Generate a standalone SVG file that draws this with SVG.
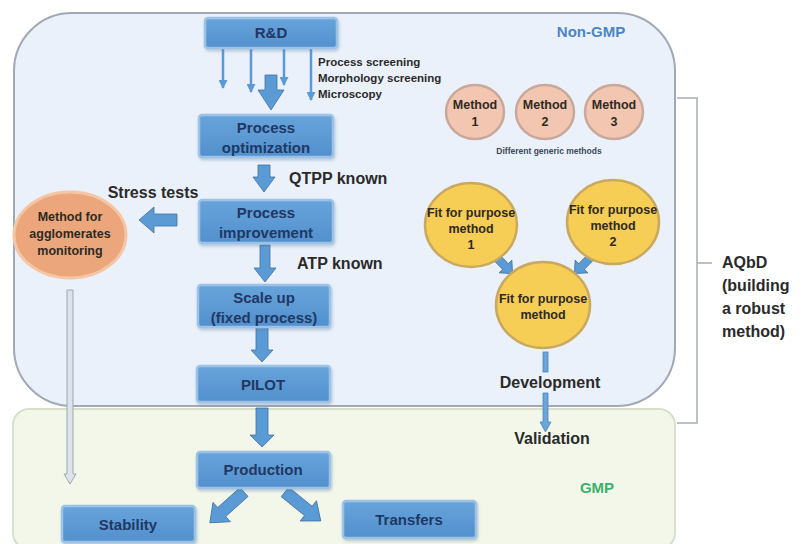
<svg xmlns="http://www.w3.org/2000/svg" width="812" height="544" viewBox="0 0 812 544">
  <defs>
    <linearGradient id="boxFill" x1="0" y1="0" x2="0" y2="1">
      <stop offset="0" stop-color="#68a4db"/>
      <stop offset="1" stop-color="#5290cd"/>
    </linearGradient>
    <filter id="shadow" x="-10%" y="-10%" width="125%" height="140%">
      <feDropShadow dx="1" dy="2" stdDeviation="1.5" flood-color="#4d6f94" flood-opacity="0.35"/>
    </filter>
    <marker id="thinHead" markerWidth="9" markerHeight="9" refX="8" refY="4.5" orient="auto" markerUnits="userSpaceOnUse">
      <path d="M0,0 L9,4.5 L0,9 Z" fill="#5b9bd5"/>
    </marker>
  </defs>
  <style>
    .box { fill: url(#boxFill); stroke: #9cc3e6; stroke-width: 2.5; filter: url(#shadow); }
    .boxText { font-family: "Liberation Sans", Arial, sans-serif; font-weight: bold; font-size: 15px; fill: #1f3864; text-anchor: middle; }
    .label { font-family: "Liberation Sans", Arial, sans-serif; font-weight: bold; font-size: 16px; fill: #2a2a2a; }
    .small { font-family: "Liberation Sans", Arial, sans-serif; font-weight: bold; font-size: 11.5px; fill: #2a2a2a; }
    .blockArrow { fill: #5b9bd5; stroke: #41719c; stroke-width: 0.8; }
    .thin { stroke: #5b9bd5; stroke-width: 2.5; fill: none; }
    .methodCircle { fill: #f2c6b0; stroke: #c8a89a; stroke-width: 2.5; }
    .fitCircle { fill: #f6cd55; stroke: #c9a860; stroke-width: 2.5; }
    .circleText { font-family: "Liberation Sans", Arial, sans-serif; font-weight: bold; font-size: 12.5px; fill: #2e2a22; text-anchor: middle; }
    .devArrow { fill: #6aa5dc; stroke: #4f86bb; stroke-width: 0.8; }
  </style>

  <rect width="812" height="544" fill="#ffffff"/>

  <!-- zones -->
  <g id="zone-gmp">
    <rect x="13" y="409" width="662" height="140" rx="16" fill="#f3f7ea" stroke="#d8e0cc" stroke-width="2"/>
    <text x="597" y="493" font-family="Liberation Sans, Arial, sans-serif" font-weight="bold" font-size="15" fill="#3fb06d" text-anchor="middle">GMP</text>
  </g>
  <g id="zone-nongmp">
    <rect x="14" y="13" width="661" height="393" rx="58" fill="#eaf1fa" stroke="#a2a9b4" stroke-width="2"/>
    <text x="591" y="37" font-family="Liberation Sans, Arial, sans-serif" font-weight="bold" font-size="15" fill="#4a86c5" text-anchor="middle">Non-GMP</text>
  </g>

  <!-- AQbD bracket -->
  <g id="aqbd">
    <path d="M677,98 H697 V423 H677 M697,263 H712" fill="none" stroke="#a8adb4" stroke-width="1.5"/>
    <text class="label" x="722" y="268" font-size="16.5">AQbD</text>
    <text class="label" x="722" y="291" font-size="16.5">(building</text>
    <text class="label" x="722" y="314" font-size="16.5">a robust</text>
    <text class="label" x="722" y="337" font-size="16.5">method)</text>
  </g>

  <!-- connectors -->
  <g id="connectors">
    <!-- R&D screening arrows -->
    <line class="thin" x1="223" y1="49" x2="223" y2="88" marker-end="url(#thinHead)"/>
    <line class="thin" x1="251" y1="49" x2="251" y2="92" marker-end="url(#thinHead)"/>
    <line class="thin" x1="284" y1="49" x2="284" y2="85" marker-end="url(#thinHead)"/>
    <line class="thin" x1="311" y1="49" x2="311" y2="100" marker-end="url(#thinHead)"/>
    <!-- main flow block arrows -->
    <path class="blockArrow" d="M265,75 H277 V90 H284 L271,110 L258,90 H265 Z"/>
    <path class="blockArrow" d="M258,165 H270 V177 H275 L264,192 L253,177 H258 Z"/>
    <path class="blockArrow" d="M260,245 H270 V268 H276 L265,282 L254,268 H260 Z"/>
    <path class="blockArrow" d="M256,327 H268 V350 H273 L262,362 L251,350 H256 Z"/>
    <path class="blockArrow" d="M256,408 H268 V435 H274 L262,447 L250,435 H256 Z"/>
    <!-- stress tests -->
    <path class="blockArrow" d="M177,214 V226 H154 V233 L139,220 L154,207 V214 Z"/>
    <!-- production outputs -->
    <path class="blockArrow" transform="translate(244,492) rotate(48)" d="M-6,0 H6 V30 H13 L0,46 L-13,30 H-6 Z"/>
    <path class="blockArrow" transform="translate(285,492) rotate(-51)" d="M-6,0 H6 V30 H13 L0,46 L-13,30 H-6 Z"/>
    <!-- agglomerates monitoring line -->
    <path d="M67,290 H73 V474 H76 L70,484 L64,474 H67 Z" fill="#dde3ea" stroke="#9ea7b0" stroke-width="1"/>
    <!-- fit for purpose merge arrows -->
    <path class="blockArrow" fill="#4d9be0" transform="translate(497,258) rotate(-45)" d="M-4,0 H4 V12 H9 L0,22 L-9,12 H-4 Z"/>
    <path class="blockArrow" fill="#4d9be0" transform="translate(590,258) rotate(45)" d="M-4,0 H4 V12 H9 L0,22 L-9,12 H-4 Z"/>
    <!-- development / validation, broken around the Development label -->
    <rect class="devArrow" x="543" y="352" width="5" height="20"/>
    <path class="devArrow" d="M543,393 H548 V422 H551 L545.5,432 L540,422 H543 Z"/>
  </g>

  <!-- nodes -->
  <g id="node-rd">
    <rect class="box" x="205" y="18" width="132" height="30" rx="3"/>
    <text class="boxText" x="271" y="38">R&amp;D</text>
  </g>
  <g id="node-screening">
    <text class="small" x="318" y="66">Process screening</text>
    <text class="small" x="318" y="82">Morphology screening</text>
    <text class="small" x="318" y="98">Microscopy</text>
  </g>
  <g id="node-optimization">
    <rect class="box" x="199" y="115" width="134" height="42" rx="3"/>
    <text class="boxText" x="266" y="133">Process</text>
    <text class="boxText" x="266" y="153">optimization</text>
  </g>
  <g id="node-improvement">
    <rect class="box" x="199" y="200" width="134" height="43" rx="3"/>
    <text class="boxText" x="266" y="218">Process</text>
    <text class="boxText" x="266" y="238">improvement</text>
  </g>
  <g id="node-scaleup">
    <rect class="box" x="198" y="285" width="132" height="42" rx="3"/>
    <text class="boxText" x="264" y="303">Scale up</text>
    <text class="boxText" x="264" y="323">(fixed process)</text>
  </g>
  <g id="node-pilot">
    <rect class="box" x="197" y="366" width="133" height="36" rx="3"/>
    <text class="boxText" x="263" y="390">PILOT</text>
  </g>
  <g id="node-production">
    <rect class="box" x="197" y="452" width="133" height="36" rx="3"/>
    <text class="boxText" x="263" y="475">Production</text>
  </g>
  <g id="node-stability">
    <rect class="box" x="62" y="506" width="133" height="36" rx="3"/>
    <text class="boxText" x="128" y="530">Stability</text>
  </g>
  <g id="node-transfers">
    <rect class="box" x="343" y="501" width="133" height="37" rx="3"/>
    <text class="boxText" x="409" y="525">Transfers</text>
  </g>

  <g id="labels">
    <text class="label" x="289" y="184">QTPP known</text>
    <text class="label" x="297" y="269">ATP known</text>
    <text class="label" x="153" y="198" font-size="14.5" text-anchor="middle">Stress tests</text>
    <text class="label" x="550" y="388" text-anchor="middle">Development</text>
    <text class="label" x="552" y="444" text-anchor="middle">Validation</text>
  </g>

  <g id="node-agglomerates">
    <ellipse cx="70" cy="235" rx="56" ry="43" fill="#eba67c" stroke="#f5c6a6" stroke-width="3"/>
    <text class="circleText" x="70" y="221" font-size="11.5" fill="#3a2a22">Method for</text>
    <text class="circleText" x="70" y="238" font-size="11.5" fill="#3a2a22">agglomerates</text>
    <text class="circleText" x="70" y="255" font-size="11.5" fill="#3a2a22">monitoring</text>
  </g>

  <g id="node-method1">
    <ellipse class="methodCircle" cx="475" cy="112" rx="29" ry="27"/>
    <text class="circleText" x="475" y="109" font-size="11.5">Method</text>
    <text class="circleText" x="475" y="126" font-size="11.5">1</text>
  </g>
  <g id="node-method2">
    <ellipse class="methodCircle" cx="545" cy="112" rx="29" ry="27"/>
    <text class="circleText" x="545" y="109" font-size="11.5">Method</text>
    <text class="circleText" x="545" y="126" font-size="11.5">2</text>
  </g>
  <g id="node-method3">
    <ellipse class="methodCircle" cx="614" cy="112" rx="29" ry="27"/>
    <text class="circleText" x="614" y="109" font-size="11.5">Method</text>
    <text class="circleText" x="614" y="126" font-size="11.5">3</text>
  </g>
  <text x="549" y="154" font-family="Liberation Sans, Arial, sans-serif" font-weight="bold" font-size="8.5" fill="#3a4a5a" text-anchor="middle">Different generic methods</text>

  <g id="node-fit1">
    <ellipse class="fitCircle" cx="471" cy="225" rx="46" ry="42"/>
    <text class="circleText" x="471" y="217" font-size="12">Fit for purpose</text>
    <text class="circleText" x="471" y="233" font-size="12">method</text>
    <text class="circleText" x="471" y="249" font-size="12">1</text>
  </g>
  <g id="node-fit2">
    <ellipse class="fitCircle" cx="613" cy="222" rx="46" ry="42"/>
    <text class="circleText" x="613" y="214" font-size="12">Fit for purpose</text>
    <text class="circleText" x="613" y="230" font-size="12">method</text>
    <text class="circleText" x="613" y="246" font-size="12">2</text>
  </g>
  <g id="node-fit">
    <ellipse class="fitCircle" cx="543" cy="305" rx="47" ry="43"/>
    <text class="circleText" x="543" y="303" font-size="12">Fit for purpose</text>
    <text class="circleText" x="543" y="319" font-size="12">method</text>
  </g>
</svg>
